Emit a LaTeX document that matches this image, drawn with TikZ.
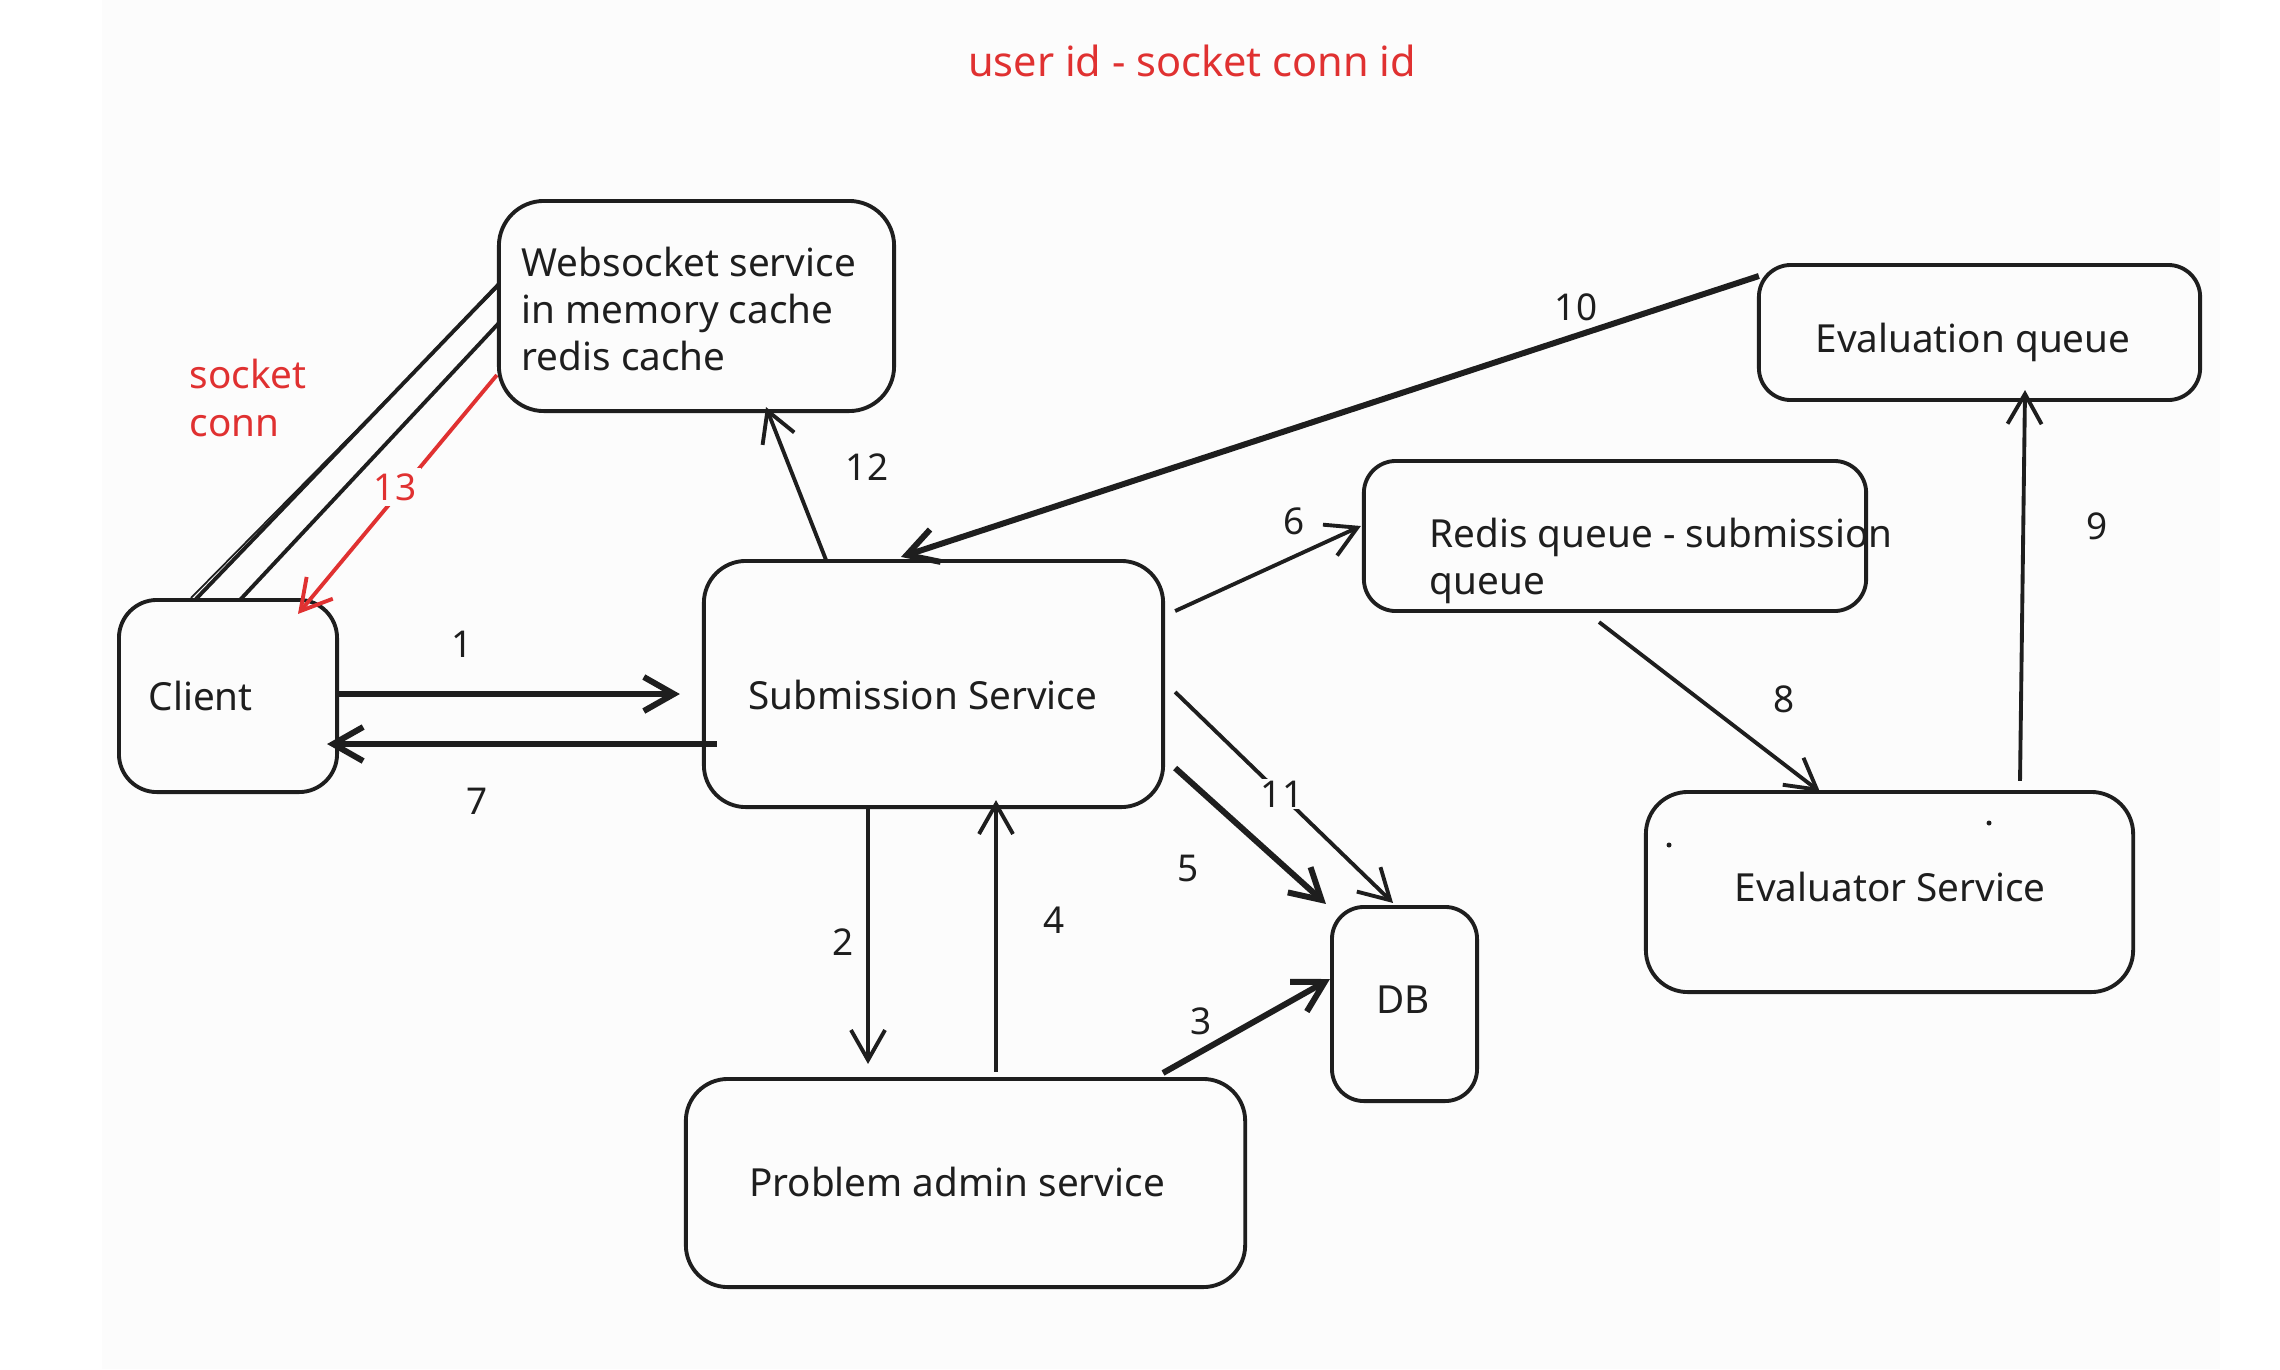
\documentclass[tikz,border=0pt]{standalone}
\usepackage{fontspec}
\setmainfont{Noto Sans}
\usetikzlibrary{arrows.meta,calc}
\definecolor{ink}{HTML}{1E1E1E}
\definecolor{redink}{HTML}{E03131}
\definecolor{paper}{HTML}{FCFCFC}

\begin{document}
\begin{tikzpicture}[x=0.01cm,y=-0.01cm,
  box/.style={draw=ink,line width=1.1pt,rounded corners=0.32cm,inner sep=0pt,outer sep=0pt},
  txt/.style={text=ink,inner sep=0pt,font=\fontsize{11}{13.4}\selectfont,align=left},
  num/.style={text=ink,inner sep=1.5pt,font=\fontsize{10.5}{12}\selectfont},
  arr/.style={draw=ink,line width=1.1pt,-{Straight Barb[length=3mm,width=3.4mm]}},
  heavy/.style={line width=1.7pt},
  plain/.style={draw=ink,line width=1.1pt}]

\useasboundingbox (0,0) rectangle (2280,1369);
\fill[paper] (102,0) rectangle (2220,1369);

% service boxes
\node[box,minimum width=2.18cm,minimum height=1.92cm,rounded corners=0.38cm] (client) at (228,696) {};
\node[box,minimum width=4.59cm,minimum height=2.46cm,rounded corners=0.42cm] (sub) at (933.5,684) {};
\node[box,minimum width=3.95cm,minimum height=2.10cm,rounded corners=0.45cm] (ws) at (696.5,306) {};
\node[box,minimum width=5.02cm,minimum height=1.50cm] (redis) at (1615,536) {};
\node[box,minimum width=4.41cm,minimum height=1.35cm] (evalq) at (1979.5,332.5) {};
\node[box,minimum width=4.87cm,minimum height=2.00cm,rounded corners=0.42cm] (evaluator) at (1889.5,892) {};
\node[box,minimum width=1.45cm,minimum height=1.94cm] (db) at (1404.5,1004) {};
\node[box,minimum width=5.59cm,minimum height=2.08cm,rounded corners=0.42cm] (prob) at (965.5,1183) {};

% box texts
\node[txt,anchor=west] (clientT) at (148,696) {Client};
\node[txt] (subT) at (923,695) {Submission Service};
\node[txt,anchor=west] (wsT) at (521,309) {Websocket service\\in memory cache\\redis cache};
\node[txt,anchor=west] (redisT) at (1429,561) {Redis queue - submission\\queue};
\node[txt] (evalqT) at (1973,342) {Evaluation queue};
\node[txt] (evaluatorT) at (1890,887) {Evaluator Service};
\node[txt] (dbT) at (1403,1000) {DB};
\node[txt] (probT) at (957,1182) {Problem admin service};

% stray pen marks inside the evaluator box
\fill[ink] (1669,845) circle (2.5);
\fill[ink] (1989,823) circle (2.5);

% red annotations
\node[txt,text=redink,font=\fontsize{11.8}{14}\selectfont] (title) at (1192,61) {user id - socket conn id};
\node[txt,text=redink,anchor=west] (sockT) at (189,398) {socket\\conn};

% socket connection between client and websocket service
\draw[plain] ($(ws.west)+(0,-22)$) -- ($(client.north)+(-32,-1)$);
\draw[plain,line width=0.5pt] ($(ws.west)+(-2,-18)$) -- ($(client.north)+(-37,-2)$);
\draw[plain] ($(ws.west)+(0,17)$) -- ($(client.north)+(12,0)$);

% numbered flows
\draw[arr,heavy] ($(client.east)+(0,-2)$) -- ($(sub.west)+(-24,10)$);
\node[num] (l1) at (462,644) {1};
\draw[arr,heavy] ($(sub.west)+(13,60)$) -- ($(client.east)+(-10,48)$);
\node[num] (l7) at (477,801) {7};
\draw[arr] ($(sub.north)+(-107.5,-1)$) -- ($(ws.south)+(69.5,-4)$);
\node[num] (l12) at (867,467) {12};
\draw[arr,draw=redink] ($(ws.west)+(-2,69)$) -- ($(client.north)+(70,14)$);
\node[num,text=redink,fill=paper] (l13) at (395,487) {13};
\draw[arr] ($(sub.south)+(-65.5,1)$) -- ($(prob.north)+(-97.5,-15)$);
\node[num] (l2) at (843,942) {2};
\draw[arr] ($(prob.north)+(30.5,-7)$) -- ($(sub.south)+(62.5,-7)$);
\node[num] (l4) at (1054,920) {4};
\draw[arr,heavy] ($(prob.north)+(197.5,-6)$) -- ($(db.west)+(-2,-25)$);
\node[num] (l3) at (1201,1021) {3};
\draw[arr,heavy] ($(sub.east)+(12,84)$) -- ($(db.north west)+(-6,-3)$);
\node[num] (l5) at (1188,868) {5};
\draw[arr] ($(sub.east)+(12,8)$) -- ($(db.north)+(-11.5,-4)$);
\node[num,fill=paper,inner sep=0.5pt] (l11) at (1282,794) {11};
\draw[arr] ($(sub.east)+(12,-73)$) -- ($(redis.west)+(-3,-10)$);
\node[num] (l6) at (1294,521) {6};
\draw[arr,heavy] ($(evalq.west)+(0,-56.5)$) -- ($(sub.north)+(-32.5,-4)$);
\node[num] (l10) at (1576,307) {10};
\draw[arr] ($(redis.south)+(-16,11)$) -- ($(evaluator.north)+(-69.5,0)$);
\node[num] (l8) at (1784,699) {8};
\draw[arr] ($(evaluator.north)+(130.5,-11)$) -- ($(evalq.south)+(45.5,-10)$);
\node[num] (l9) at (2097,526) {9};

\end{tikzpicture}
\end{document}
